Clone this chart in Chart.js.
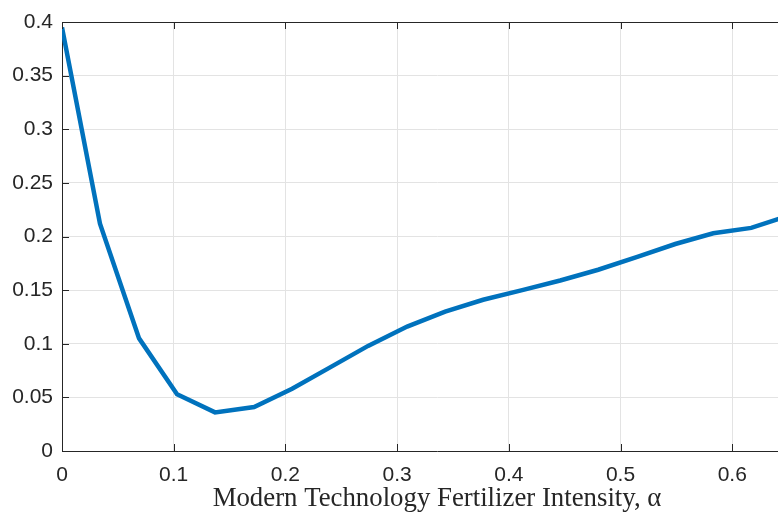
<!DOCTYPE html>
<html>
<head>
<meta charset="utf-8">
<script src="https://cdn.jsdelivr.net/npm/chart.js@4"></script>
<style>
  html, body { margin: 0; padding: 0; background: #fff; overflow: hidden; }
  #wrap { width: 778px; height: 513px; overflow: hidden; }
</style>
</head>
<body>
<div id="wrap"><canvas id="grafica" width="812" height="513"></canvas></div>
<script>
// valores
const alphaValues = [0, 0.034, 0.069, 0.103, 0.137, 0.172, 0.206, 0.240, 0.274, 0.309,
  0.343, 0.377, 0.412, 0.446, 0.480, 0.515, 0.549, 0.583, 0.617, 0.652];
const seriesValues = [0.395, 0.212, 0.105, 0.053, 0.036, 0.041, 0.058, 0.078, 0.098, 0.116,
  0.130, 0.141, 0.150, 0.159, 0.169, 0.181, 0.193, 0.203, 0.208, 0.220];
const xTickValues = [0, 0.1, 0.2, 0.3, 0.4, 0.5, 0.6];
const xTickLabels = ['0', '0.1', '0.2', '0.3', '0.4', '0.5', '0.6'];
const yTickValues = [0, 0.05, 0.1, 0.15, 0.2, 0.25, 0.3, 0.35, 0.4];
const yTickLabels = ['0', '0.05', '0.1', '0.15', '0.2', '0.25', '0.3', '0.35', '0.4'];
const xTitle = 'Modern Technology Fertilizer Intensity, \u03b1';

const axisColor = '#262626';
const gridColor = '#e3e3e3';

// caja y ticks hacia adentro, estilo matlab
const boxPlugin = {
  id: 'boxTicks',
  afterDraw(chart) {
    const ctx = chart.ctx;
    const area = chart.chartArea;
    const xs = chart.scales.x;
    const ys = chart.scales.y;
    const len = 7;
    ctx.save();
    ctx.strokeStyle = axisColor;
    ctx.lineWidth = 1;
    ctx.beginPath();
    ctx.moveTo(area.left, area.top + 0.5);
    ctx.lineTo(area.right, area.top + 0.5);
    xTickValues.forEach(v => {
      const px = Math.round(xs.getPixelForValue(v)) + 0.5;
      ctx.moveTo(px, area.bottom);
      ctx.lineTo(px, area.bottom - len);
      ctx.moveTo(px, area.top);
      ctx.lineTo(px, area.top + len);
    });
    yTickValues.forEach(v => {
      const py = Math.round(ys.getPixelForValue(v)) + 0.5;
      ctx.moveTo(area.left, py);
      ctx.lineTo(area.left + len, py);
    });
    ctx.stroke();
    ctx.restore();
  }
};

const ctx = document.getElementById('grafica').getContext('2d');
const myChart = new Chart(ctx, {
  type: 'line',
  data: {
    datasets: [{
      data: alphaValues.map((a, i) => ({ x: a, y: seriesValues[i] })),
      borderColor: '#0072BD',
      borderWidth: 4.5,
      pointRadius: 0,
      tension: 0,
      fill: false
    }]
  },
  options: {
    responsive: false,
    animation: false,
    layout: { padding: { top: 22, right: 0, left: 0, bottom: 0 } },
    plugins: { legend: { display: false }, tooltip: { enabled: false } },
    scales: {
      x: {
        type: 'linear',
        min: 0,
        max: 0.6714,
        afterBuildTicks: s => { s.ticks = xTickValues.map(v => ({ value: v })); },
        afterFit: s => { s.height = 62; },
        grid: { color: gridColor, drawTicks: false },
        border: { color: axisColor, width: 1 },
        ticks: {
          padding: 12,
          color: axisColor,
          font: { family: 'Liberation Sans, Arial, sans-serif', size: 21 },
          maxRotation: 0,
          callback: (v, i) => xTickLabels[i]
        },
        title: {
          display: true,
          text: xTitle,
          color: axisColor,
          padding: { top: 0, bottom: -2 },
          font: { family: 'Liberation Serif, serif', size: 26.8 }
        }
      },
      y: {
        min: 0,
        max: 0.4,
        afterBuildTicks: s => { s.ticks = yTickValues.map(v => ({ value: v })); },
        afterFit: s => { s.width = 62; },
        grid: { color: gridColor, drawTicks: false },
        border: { color: axisColor, width: 1 },
        ticks: {
          padding: 9,
          color: axisColor,
          font: { family: 'Liberation Sans, Arial, sans-serif', size: 21 },
          callback: (v, i) => yTickLabels[i]
        }
      }
    }
  },
  plugins: [boxPlugin]
});
</script>
</body>
</html>
